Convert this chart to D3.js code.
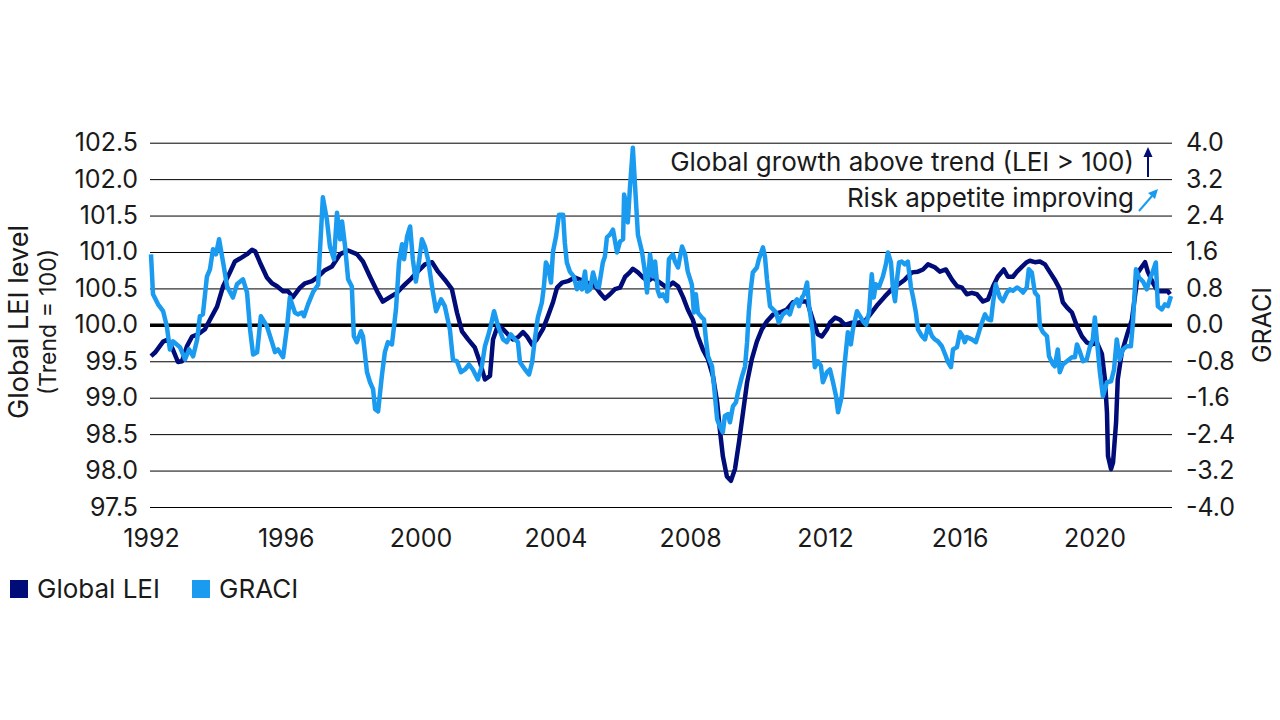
<!DOCTYPE html>
<html lang="en">
<head>
<meta charset="utf-8">
<title>Global LEI vs GRACI</title>
<script src="https://d3js.org/d3.v7.min.js"></script>
<style>
  body { margin: 0; background: #fff; }
  svg text { font-family: Inter, "Open Sans", sans-serif; fill: #1a1a1a; }
</style>
</head>
<body>
<div id="chart"></div>
<script>
// year ticks along the bottom
const xTicks = [1992, 1996, 2000, 2004, 2008, 2012, 2016, 2020];
const leftTicks = [97.5, 98.0, 98.5, 99.0, 99.5, 100.0, 100.5, 101.0, 101.5, 102.0, 102.5];
const rightTicks = [-4.0, -3.2, -2.4, -1.6, -0.8, 0.0, 0.8, 1.6, 2.4, 3.2, 4.0];

// Global LEI level, [decimal year, value]
const leiSeries = [
  [1992.00, 99.57], [1992.12, 99.62], [1992.36, 99.77], [1992.50, 99.80], [1992.65, 99.66],
  [1992.80, 99.49], [1992.92, 99.50], [1993.07, 99.71], [1993.22, 99.84], [1993.39, 99.87],
  [1993.60, 99.94], [1993.75, 100.07], [1993.96, 100.25], [1994.14, 100.53], [1994.34, 100.72],
  [1994.49, 100.87], [1994.64, 100.91], [1994.85, 100.97], [1995.00, 101.03], [1995.09, 101.01],
  [1995.23, 100.86], [1995.44, 100.65], [1995.59, 100.57], [1995.74, 100.53], [1995.92, 100.46],
  [1996.07, 100.46], [1996.21, 100.38], [1996.42, 100.51], [1996.57, 100.57], [1996.78, 100.60],
  [1996.96, 100.66], [1997.16, 100.75], [1997.37, 100.80], [1997.61, 100.97], [1997.85, 101.02],
  [1998.11, 100.97], [1998.29, 100.87], [1998.50, 100.66], [1998.71, 100.46], [1998.88, 100.32],
  [1999.09, 100.38], [1999.30, 100.44], [1999.48, 100.53], [1999.69, 100.62], [1999.89, 100.72],
  [2000.13, 100.83], [2000.34, 100.86], [2000.52, 100.73], [2000.72, 100.62], [2000.93, 100.49],
  [2001.08, 100.17], [2001.23, 99.91], [2001.41, 99.80], [2001.61, 99.69], [2001.76, 99.49],
  [2001.91, 99.25], [2002.06, 99.30], [2002.15, 99.80], [2002.30, 100.00], [2002.45, 99.94],
  [2002.59, 99.87], [2002.74, 99.80], [2002.89, 99.83], [2003.04, 99.90], [2003.16, 99.84],
  [2003.31, 99.73], [2003.45, 99.80], [2003.63, 99.94], [2003.78, 100.12], [2003.93, 100.31],
  [2004.05, 100.51], [2004.20, 100.58], [2004.37, 100.60], [2004.58, 100.65], [2004.73, 100.62],
  [2004.94, 100.58], [2005.18, 100.53], [2005.32, 100.44], [2005.47, 100.36], [2005.62, 100.42],
  [2005.77, 100.49], [2005.92, 100.51], [2006.07, 100.66], [2006.21, 100.72], [2006.30, 100.77],
  [2006.45, 100.72], [2006.60, 100.65], [2006.75, 100.60], [2006.90, 100.65], [2007.04, 100.60],
  [2007.31, 100.51], [2007.49, 100.58], [2007.64, 100.53], [2007.79, 100.38], [2007.93, 100.21],
  [2008.08, 100.07], [2008.23, 99.84], [2008.38, 99.66], [2008.53, 99.53], [2008.68, 99.29],
  [2008.80, 98.94], [2008.88, 98.57], [2008.97, 98.20], [2009.09, 97.92], [2009.21, 97.86],
  [2009.33, 98.02], [2009.45, 98.39], [2009.57, 98.80], [2009.69, 99.21], [2009.83, 99.53],
  [2009.98, 99.77], [2010.13, 99.94], [2010.28, 100.05], [2010.46, 100.14], [2010.66, 100.17],
  [2010.87, 100.21], [2011.05, 100.31], [2011.26, 100.32], [2011.47, 100.32], [2011.64, 100.07],
  [2011.79, 99.87], [2011.91, 99.84], [2012.06, 99.94], [2012.15, 100.03], [2012.30, 100.10],
  [2012.45, 100.07], [2012.59, 100.00], [2012.80, 100.03], [2012.98, 100.03], [2013.19, 100.05],
  [2013.39, 100.17], [2013.57, 100.28], [2013.78, 100.39], [2013.99, 100.49], [2014.17, 100.55],
  [2014.37, 100.62], [2014.58, 100.72], [2014.76, 100.73], [2014.91, 100.76], [2015.06, 100.83],
  [2015.26, 100.79], [2015.41, 100.73], [2015.59, 100.76], [2015.77, 100.62], [2015.92, 100.53],
  [2016.07, 100.51], [2016.21, 100.42], [2016.36, 100.44], [2016.51, 100.42], [2016.69, 100.32],
  [2016.84, 100.35], [2016.99, 100.53], [2017.13, 100.66], [2017.31, 100.76], [2017.43, 100.66],
  [2017.58, 100.66], [2017.70, 100.73], [2017.85, 100.80], [2017.99, 100.86], [2018.08, 100.88],
  [2018.23, 100.86], [2018.38, 100.87], [2018.53, 100.83], [2018.68, 100.72], [2018.82, 100.62],
  [2018.97, 100.49], [2019.06, 100.31], [2019.18, 100.24], [2019.33, 100.17], [2019.48, 99.98],
  [2019.63, 99.84], [2019.77, 99.76], [2019.92, 99.73], [2020.07, 99.76], [2020.22, 99.60],
  [2020.31, 99.25], [2020.37, 98.80], [2020.40, 98.20], [2020.49, 98.02], [2020.55, 98.11],
  [2020.64, 98.66], [2020.69, 99.25], [2020.81, 99.62], [2020.90, 99.76], [2020.99, 99.90],
  [2021.11, 100.07], [2021.20, 100.39], [2021.29, 100.72], [2021.41, 100.80], [2021.50, 100.86],
  [2021.58, 100.73], [2021.73, 100.58], [2021.88, 100.46], [2022.03, 100.46], [2022.18, 100.46],
  [2022.24, 100.42]
];

// GRACI (right axis), [decimal year, value]
const graciSeries = [
  [1992.00, 1.55], [1992.06, 0.67], [1992.21, 0.45], [1992.36, 0.30], [1992.47, -0.03],
  [1992.56, -0.54], [1992.65, -0.36], [1992.86, -0.49], [1993.01, -0.76], [1993.13, -0.54],
  [1993.25, -0.69], [1993.37, -0.32], [1993.45, 0.19], [1993.54, 0.23], [1993.66, 1.06],
  [1993.75, 1.22], [1993.84, 1.66], [1993.93, 1.55], [1994.02, 1.88], [1994.14, 1.37],
  [1994.26, 0.84], [1994.43, 0.60], [1994.55, 0.89], [1994.73, 1.00], [1994.85, 0.71],
  [1994.94, -0.10], [1995.03, -0.65], [1995.15, -0.60], [1995.26, 0.19], [1995.44, -0.03],
  [1995.59, -0.38], [1995.68, -0.60], [1995.77, -0.54], [1995.92, -0.71], [1996.04, -0.03],
  [1996.12, 0.60], [1996.27, 0.27], [1996.36, 0.23], [1996.48, 0.27], [1996.54, 0.19],
  [1996.66, 0.45], [1996.81, 0.72], [1996.96, 0.88], [1997.10, 2.80], [1997.22, 2.31],
  [1997.31, 1.72], [1997.43, 1.44], [1997.52, 2.46], [1997.61, 1.88], [1997.67, 2.27],
  [1997.76, 1.72], [1997.85, 1.00], [1997.96, 0.84], [1998.02, -0.25], [1998.11, -0.38],
  [1998.23, -0.14], [1998.29, -0.25], [1998.41, -1.04], [1998.50, -1.26], [1998.59, -1.41],
  [1998.65, -1.85], [1998.74, -1.90], [1998.85, -1.13], [1998.94, -0.60], [1999.03, -0.38],
  [1999.15, -0.43], [1999.27, 0.34], [1999.36, 1.37], [1999.45, 1.77], [1999.51, 1.44],
  [1999.60, 1.94], [1999.69, 2.16], [1999.77, 1.44], [1999.86, 0.95], [1999.95, 1.37],
  [2000.04, 1.88], [2000.13, 1.72], [2000.22, 1.44], [2000.34, 0.84], [2000.46, 0.30],
  [2000.61, 0.56], [2000.72, 0.41], [2000.87, -0.10], [2000.96, -0.76], [2001.08, -0.80],
  [2001.20, -1.04], [2001.32, -0.98], [2001.44, -0.87], [2001.55, -0.98], [2001.70, -1.20],
  [2001.82, -0.90], [2001.91, -0.47], [2002.00, -0.25], [2002.09, 0.00], [2002.18, 0.30],
  [2002.30, -0.03], [2002.45, -0.32], [2002.56, -0.38], [2002.68, -0.21], [2002.80, -0.32],
  [2002.89, -0.38], [2002.95, -0.82], [2003.10, -0.98], [2003.22, -1.09], [2003.31, -0.82],
  [2003.39, -0.32], [2003.48, 0.16], [2003.60, 0.49], [2003.66, 0.84], [2003.72, 1.37],
  [2003.78, 1.28], [2003.87, 0.93], [2003.93, 1.61], [2004.02, 1.94], [2004.11, 2.42],
  [2004.23, 2.42], [2004.28, 1.81], [2004.34, 1.37], [2004.43, 1.17], [2004.55, 1.06],
  [2004.64, 0.78], [2004.73, 0.93], [2004.79, 0.78], [2004.88, 1.17], [2004.94, 0.73],
  [2005.03, 0.78], [2005.12, 1.15], [2005.23, 0.84], [2005.29, 0.82], [2005.41, 1.37],
  [2005.47, 1.50], [2005.53, 1.92], [2005.62, 1.98], [2005.71, 2.09], [2005.83, 1.59],
  [2005.92, 1.83], [2006.01, 1.88], [2006.04, 2.86], [2006.12, 2.60], [2006.15, 2.25],
  [2006.21, 2.97], [2006.30, 3.89], [2006.36, 3.12], [2006.45, 1.98], [2006.57, 1.61],
  [2006.66, 1.15], [2006.72, 0.71], [2006.81, 1.55], [2006.90, 1.06], [2006.96, 1.39],
  [2007.04, 0.75], [2007.10, 0.63], [2007.19, 0.67], [2007.31, 0.52], [2007.37, 1.44],
  [2007.49, 1.55], [2007.55, 1.39], [2007.64, 1.26], [2007.76, 1.72], [2007.85, 1.55],
  [2007.93, 1.17], [2008.05, 0.89], [2008.11, 0.27], [2008.17, 0.67], [2008.23, 0.27],
  [2008.35, 0.16], [2008.41, 0.12], [2008.47, -0.32], [2008.53, -0.69], [2008.65, -0.91],
  [2008.71, -1.35], [2008.80, -2.07], [2008.88, -2.23], [2008.97, -2.36], [2009.03, -2.00],
  [2009.12, -1.96], [2009.18, -2.14], [2009.27, -1.79], [2009.36, -1.70], [2009.42, -1.48],
  [2009.54, -1.13], [2009.63, -0.91], [2009.69, -0.38], [2009.74, 0.27], [2009.80, 0.78],
  [2009.86, 1.15], [2009.98, 1.26], [2010.04, 1.44], [2010.16, 1.70], [2010.22, 1.50],
  [2010.28, 1.00], [2010.37, 0.41], [2010.46, 0.34], [2010.55, 0.27], [2010.63, 0.05],
  [2010.75, 0.23], [2010.87, 0.30], [2010.96, 0.23], [2011.05, 0.45], [2011.17, 0.56],
  [2011.23, 0.41], [2011.32, 0.60], [2011.38, 0.67], [2011.47, 0.93], [2011.53, 0.41],
  [2011.64, -0.16], [2011.70, -0.93], [2011.79, -0.80], [2011.88, -0.90], [2011.94, -1.26],
  [2012.06, -1.04], [2012.15, -0.98], [2012.24, -1.26], [2012.33, -1.57], [2012.39, -1.92],
  [2012.50, -1.57], [2012.59, -0.82], [2012.68, -0.16], [2012.77, -0.43], [2012.83, -0.10],
  [2012.95, 0.30], [2013.04, 0.19], [2013.13, 0.08], [2013.22, 0.00], [2013.31, 0.27],
  [2013.39, 1.11], [2013.45, 0.60], [2013.51, 0.89], [2013.60, 0.82], [2013.72, 1.06],
  [2013.81, 1.33], [2013.87, 1.59], [2013.96, 1.37], [2014.02, 0.78], [2014.08, 0.52],
  [2014.14, 1.00], [2014.20, 1.37], [2014.28, 1.39], [2014.37, 1.33], [2014.46, 1.39],
  [2014.55, 0.84], [2014.61, 0.63], [2014.70, 0.27], [2014.76, -0.10], [2014.88, -0.25],
  [2014.97, -0.32], [2015.06, -0.03], [2015.18, -0.25], [2015.26, -0.32], [2015.35, -0.36],
  [2015.47, -0.47], [2015.59, -0.69], [2015.65, -0.82], [2015.74, -0.93], [2015.80, -0.54],
  [2015.92, -0.49], [2016.01, -0.16], [2016.09, -0.25], [2016.15, -0.38], [2016.21, -0.27],
  [2016.36, -0.32], [2016.48, -0.38], [2016.57, -0.16], [2016.66, 0.05], [2016.75, 0.23],
  [2016.84, 0.12], [2016.93, 0.10], [2016.99, 0.49], [2017.07, 0.89], [2017.19, 0.60],
  [2017.28, 0.52], [2017.40, 0.71], [2017.49, 0.78], [2017.58, 0.75], [2017.70, 0.82],
  [2017.79, 0.78], [2017.88, 0.71], [2017.99, 0.82], [2018.05, 1.22], [2018.14, 1.15],
  [2018.23, 0.71], [2018.32, 0.63], [2018.38, -0.03], [2018.47, -0.16], [2018.59, -0.25],
  [2018.65, -0.69], [2018.77, -0.87], [2018.82, -0.91], [2018.91, -0.54], [2018.97, -1.04],
  [2019.06, -0.87], [2019.18, -0.80], [2019.33, -0.71], [2019.42, -0.71], [2019.48, -0.43],
  [2019.57, -0.60], [2019.66, -0.80], [2019.77, -0.76], [2019.86, -0.49], [2019.95, -0.32],
  [2020.01, 0.16], [2020.07, -0.32], [2020.16, -1.04], [2020.25, -1.57], [2020.37, -1.26],
  [2020.49, -1.24], [2020.58, -0.98], [2020.66, -0.32], [2020.75, -0.76], [2020.84, -0.54],
  [2020.96, -0.47], [2021.08, -0.47], [2021.14, 0.05], [2021.23, 1.22], [2021.32, 1.04],
  [2021.44, 0.95], [2021.55, 0.78], [2021.64, 1.00], [2021.73, 1.17], [2021.82, 1.37],
  [2021.88, 0.41], [2022.00, 0.34], [2022.09, 0.45], [2022.18, 0.41], [2022.27, 0.63]
];

const seriesNames = ["Global LEI", "GRACI"];
const seriesColors = ["#000c78", "#1a9bf0"];

var w = 1280, h = 720;
var plotLeft = 150, plotRight = 1172, plotTop = 142.7, plotBottom = 507;

var svg = d3.select("#chart").append("svg")
    .attr("width", w)
    .attr("height", h);

var xScale = d3.scaleLinear()
    .domain([1992, 2022.3])
    .range([151, plotRight]);

var yLeft = d3.scaleLinear()
    .domain([97.5, 102.5])
    .range([plotBottom, plotTop]);

var yRight = d3.scaleLinear()
    .domain([-4, 4])
    .range([plotBottom, plotTop]);

var fmt = function(d) { return d.toFixed(1); };

// left axis, its ticks double as gridlines
var leftAxis = svg.append("g")
    .attr("transform", "translate(" + plotLeft + ",0)")
    .call(d3.axisLeft(yLeft)
        .tickValues(leftTicks)
        .tickSize(-(plotRight - plotLeft))
        .tickPadding(12)
        .tickFormat(fmt));
leftAxis.select(".domain").remove();
leftAxis.selectAll("line")
    .attr("stroke", "#000")
    .attr("stroke-width", function(d) { return d === 100 ? 3.5 : 1; });
leftAxis.selectAll("text").style("font-size", "25px");

var rightAxis = svg.append("g")
    .attr("transform", "translate(" + plotRight + ",0)")
    .call(d3.axisRight(yRight)
        .tickValues(rightTicks)
        .tickSize(0)
        .tickPadding(14)
        .tickFormat(fmt));
rightAxis.select(".domain").remove();
rightAxis.selectAll("text").style("font-size", "25px");

var bottomAxis = svg.append("g")
    .attr("transform", "translate(0," + plotBottom + ")")
    .call(d3.axisBottom(xScale)
        .tickValues(xTicks)
        .tickSize(0)
        .tickPadding(22)
        .tickFormat(d3.format("d")));
bottomAxis.select(".domain").remove();
bottomAxis.selectAll("text").style("font-size", "25px");

// series lines
var leiLine = d3.line()
    .x(function(d) { return xScale(d[0]); })
    .y(function(d) { return yLeft(d[1]); });

var graciLine = d3.line()
    .x(function(d) { return xScale(d[0]); })
    .y(function(d) { return yRight(d[1]); });

svg.append("path")
    .datum(leiSeries)
    .attr("fill", "none")
    .attr("stroke", seriesColors[0])
    .attr("stroke-width", 4.5)
    .attr("stroke-linejoin", "round")
    .attr("d", leiLine);

svg.append("path")
    .datum(graciSeries)
    .attr("fill", "none")
    .attr("stroke", seriesColors[1])
    .attr("stroke-width", 4.5)
    .attr("stroke-linejoin", "round")
    .attr("d", graciLine);

// axis titles
svg.append("text")
    .attr("transform", "translate(28," + 322 + ") rotate(-90)")
    .attr("text-anchor", "middle")
    .style("font-size", "27px")
    .text("Global LEI level");

svg.append("text")
    .attr("transform", "translate(56," + 322 + ") rotate(-90)")
    .attr("text-anchor", "middle")
    .style("font-size", "23px")
    .text("(Trend = 100)");

svg.append("text")
    .attr("transform", "translate(1271," + 325 + ") rotate(-90)")
    .attr("text-anchor", "middle")
    .style("font-size", "25px")
    .text("GRACI");

// annotations top right
svg.append("text")
    .attr("x", 1134)
    .attr("y", 171)
    .attr("text-anchor", "end")
    .style("font-size", "26px")
    .text("Global growth above trend (LEI > 100)");

svg.append("text")
    .attr("x", 1134)
    .attr("y", 207)
    .attr("text-anchor", "end")
    .style("font-size", "26px")
    .text("Risk appetite improving");

var upX = 1148;
svg.append("line")
    .attr("x1", upX).attr("y1", 177)
    .attr("x2", upX).attr("y2", 155)
    .attr("stroke", seriesColors[0])
    .attr("stroke-width", 2);
svg.append("path")
    .attr("d", "M" + (upX - 4.5) + ",157 L" + upX + ",147 L" + (upX + 4.5) + ",157 Z")
    .attr("fill", seriesColors[0]);

svg.append("line")
    .attr("x1", 1139).attr("y1", 211)
    .attr("x2", 1152).attr("y2", 196)
    .attr("stroke", seriesColors[1])
    .attr("stroke-width", 2);
svg.append("path")
    .attr("d", "M1148,193 L1158,189 L1155,199 Z")
    .attr("fill", seriesColors[1]);

// legend
var legend = svg.append("g").attr("transform", "translate(10,580)");
var legendX = [0, 182];
seriesNames.forEach(function(name, i) {
    legend.append("rect")
        .attr("x", legendX[i])
        .attr("y", 0)
        .attr("width", 18)
        .attr("height", 18)
        .attr("fill", seriesColors[i]);
    legend.append("text")
        .attr("x", legendX[i] + 27)
        .attr("y", 18)
        .style("font-size", "26px")
        .text(name);
});
</script>
</body>
</html>
